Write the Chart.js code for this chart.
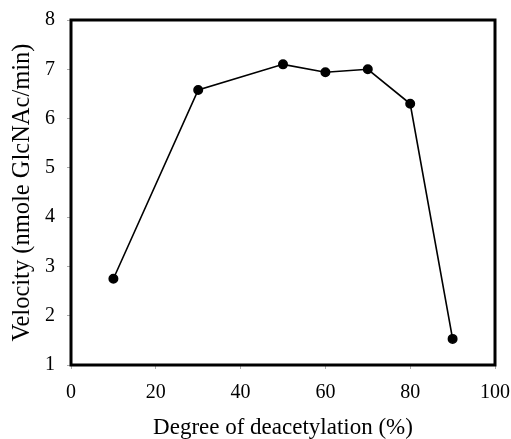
<!DOCTYPE html>
<html>
<head>
<meta charset="utf-8">
<script src="https://cdn.jsdelivr.net/npm/chart.js@4/dist/chart.umd.min.js"></script>
<style>
  html, body { margin: 0; padding: 0; background: #fff; }
  #wrap { width: 511px; height: 439px; }
</style>
</head>
<body>
<div id="wrap"><canvas id="velocityChart"></canvas></div>
<script>
    const degree = [10, 30, 50, 60, 70, 80, 90];           // Degree of deacetylation (%)
    const velocity = [2.75, 6.58, 7.1, 6.94, 7.0, 6.3, 1.53]; // nmole GlcNAc/min
    const xTicks = [0, 20, 40, 60, 80, 100];
    const yTicks = [1, 2, 3, 4, 5, 6, 7, 8];

    const points = degree.map((d, i) => ({ x: d, y: velocity[i] }));
    const serif = 'Liberation Serif, Times New Roman, serif';

    // thick black frame around the plot area
    const frame = {
        id: 'frame',
        afterDraw(chart) {
            const a = chart.chartArea;
            const c = chart.ctx;
            c.save();
            c.strokeStyle = '#000';
            c.lineWidth = 3;
            c.strokeRect(a.left, a.top, a.right - a.left, a.bottom - a.top);
            c.restore();
        }
    };

    const ctx = document.getElementById('velocityChart').getContext('2d');
    new Chart(ctx, {
        type: 'scatter',
        data: {
            datasets: [{
                data: points,
                showLine: true,
                borderColor: '#000',
                backgroundColor: '#000',
                borderWidth: 1.6,
                pointRadius: 4.2,
                pointHoverRadius: 4.2,
            }],
        },
        options: {
            responsive: true,
            maintainAspectRatio: false,
            animation: false,
            layout: { padding: { top: 20, right: 16, left: 0, bottom: 0 } },
            plugins: {
                legend: { display: false },
                tooltip: { enabled: false },
            },
            scales: {
                x: {
                    type: 'linear',
                    min: xTicks[0],
                    max: xTicks[xTicks.length - 1],
                    afterBuildTicks: (s) => { s.ticks = xTicks.map(v => ({ value: v })); },
                    afterFit: (s) => { s.height = 74; s.paddingLeft = 0; s.paddingRight = 0; },
                    grid: { drawOnChartArea: false, tickLength: 4, tickColor: '#aaa' },
                    border: { display: false },
                    ticks: { color: '#000', padding: 12, font: { family: serif, size: 20 } },
                    title: {
                        display: true,
                        text: 'Degree of deacetylation (%)',
                        color: '#000',
                        padding: { top: 0, bottom: -3 },
                        font: { family: serif, size: 23 },
                    },
                },
                y: {
                    min: yTicks[0],
                    max: yTicks[yTicks.length - 1],
                    afterBuildTicks: (s) => { s.ticks = yTicks.map(v => ({ value: v })); },
                    afterFit: (s) => { s.width = 71; s.paddingTop = 0; s.paddingBottom = 0; },
                    grid: { drawOnChartArea: false, tickLength: 4, tickColor: '#aaa' },
                    border: { display: false },
                    ticks: { color: '#000', padding: 12, font: { family: serif, size: 20 } },
                    title: {
                        display: true,
                        text: 'Velocity (nmole GlcNAc/min)',
                        color: '#000',
                        padding: { top: 8, bottom: 0 },
                        font: { family: serif, size: 24.5 },
                    },
                },
            },
        },
        plugins: [frame],
    });
</script>
</body>
</html>
